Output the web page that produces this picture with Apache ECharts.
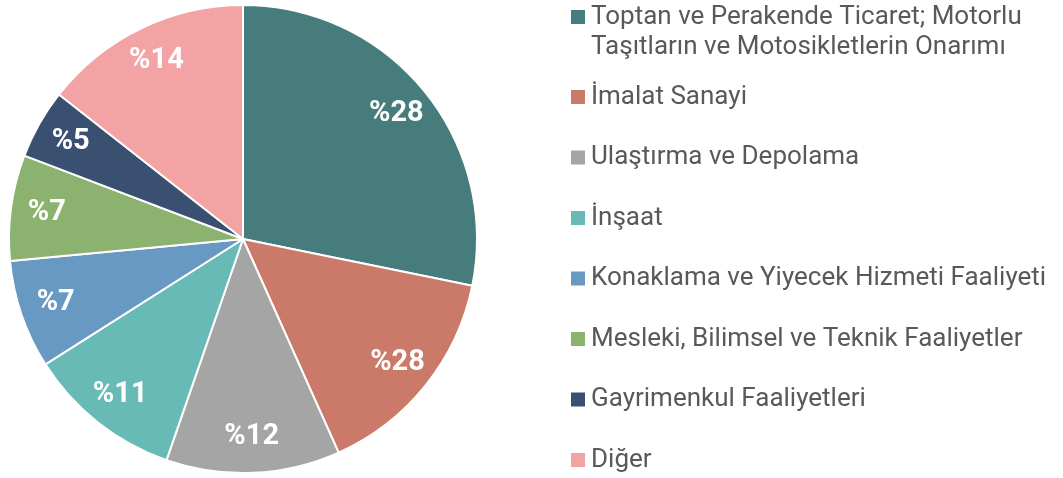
<!DOCTYPE html>
<html>
<head>
<meta charset="utf-8">
<script src="https://cdn.jsdelivr.net/npm/echarts@6/dist/echarts.min.js"></script>
<style>
  html, body { margin: 0; padding: 0; background: #fff; }
  #chart { width: 1063px; height: 478px; }
</style>
</head>
<body>
<div id="chart"></div>
<script>
var sectors = [
  "Toptan ve Perakende Ticaret; Motorlu\nTaşıtların ve Motosikletlerin Onarımı",
  "İmalat Sanayi",
  "Ulaştırma ve Depolama",
  "İnşaat",
  "Konaklama ve Yiyecek Hizmeti Faaliyeti",
  "Mesleki, Bilimsel ve Teknik Faaliyetler",
  "Gayrimenkul Faaliyetleri",
  "Diğer"
];
// slice sizes as drawn (angles)
var shares = [28.2, 15.1, 12, 10.7, 7.5, 7.3, 4.8, 14.4];
// label texts as printed on the slices
var labels = ["%28", "%28", "%12", "%11", "%7", "%7", "%5", "%14"];
var colors = ["#467c7b", "#cb7a69", "#a5a5a5", "#68bab6", "#6899c3", "#8cb26f", "#3a5070", "#f4a3a5"];

var chart = echarts.init(document.getElementById("chart"));

var pieData = sectors.map(function (name, i) {
  return { name: name, value: shares[i], itemStyle: { color: colors[i] } };
});
var labelData = sectors.map(function (name, i) {
  return { name: name, value: shares[i], label: { formatter: labels[i] } };
});

var legendData = sectors.map(function (name, i) {
  if (i === 0) {
    return { name: name, textStyle: { lineHeight: 30 } };
  }
  return { name: name };
});

var option = {
  animation: false,
  color: colors,
  legend: {
    orient: "vertical",
    left: 569,
    top: -28,
    padding: 0,
    itemWidth: 16,
    itemHeight: 16,
    itemGap: 9.5,
    icon: "rect",
    selectedMode: false,
    data: legendData,
    // blank first line so the icon sits beside the first text line
    formatter: function (name) {
      return name === sectors[0] ? "\n" + name : name;
    },
    textStyle: {
      fontFamily: "Roboto",
      fontSize: 26,
      color: "#595959",
      lineHeight: 51
    }
  },
  series: [
    {
      name: "sektor",
      type: "pie",
      center: [243, 239],
      radius: [0, 234],
      startAngle: 90,
      clockwise: true,
      silent: true,
      label: { show: false },
      labelLine: { show: false },
      itemStyle: { borderColor: "#ffffff", borderWidth: 2 },
      data: pieData
    },
    {
      name: "etiket",
      type: "pie",
      center: [243, 239],
      radius: [156, 234],
      startAngle: 90,
      clockwise: true,
      silent: true,
      itemStyle: { color: "rgba(0,0,0,0)", borderWidth: 0 },
      label: {
        show: true,
        position: "inside",
        color: "#ffffff",
        fontFamily: "Roboto",
        fontWeight: "bold",
        fontSize: 29
      },
      labelLine: { show: false },
      data: labelData
    }
  ]
};

chart.setOption(option);
</script>
</body>
</html>
